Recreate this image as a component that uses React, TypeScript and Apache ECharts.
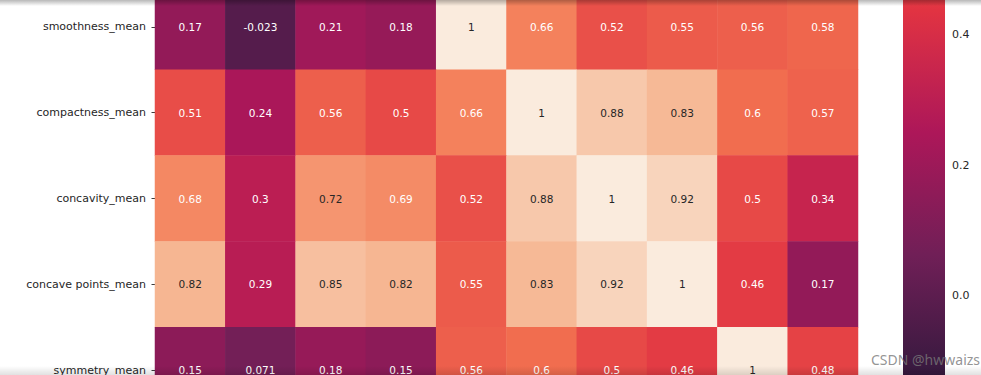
import React, { useEffect, useRef } from "react";
import * as echarts from "echarts";

const ROWS = ["smoothness_mean", "compactness_mean", "concavity_mean", "concave points_mean", "symmetry_mean"];
const COLS = [
  "radius_mean", "texture_mean", "perimeter_mean", "area_mean", "smoothness_mean",
  "compactness_mean", "concavity_mean", "concave points_mean", "symmetry_mean", "fractal_dimension_mean",
];
const SMOOTHNESS = [0.17, -0.023, 0.21, 0.18, 1, 0.66, 0.52, 0.55, 0.56, 0.58];
const COMPACTNESS = [0.51, 0.24, 0.56, 0.5, 0.66, 1, 0.88, 0.83, 0.6, 0.57];
const CONCAVITY = [0.68, 0.3, 0.72, 0.69, 0.52, 0.88, 1, 0.92, 0.5, 0.34];
const CONCAVE_POINTS = [0.82, 0.29, 0.85, 0.82, 0.55, 0.83, 0.92, 1, 0.46, 0.17];
const SYMMETRY = [0.15, 0.071, 0.18, 0.15, 0.56, 0.6, 0.5, 0.46, 1, 0.48];
const MATRIX = [SMOOTHNESS, COMPACTNESS, CONCAVITY, CONCAVE_POINTS, SYMMETRY];

const VMIN = -0.3116;
const VMAX = 1;
const COLORBAR_TICKS = [0, 0.2, 0.4];

const ROCKET = ["#03051A", "#35193E", "#701F57", "#AD1759", "#E13342", "#F37651", "#F6B48F", "#FAEBDD"];

// the figure is larger than the visible window; the chart div is shifted up by OFFSET
const OFFSET = 400;

export default function App() {
  const ref = useRef<HTMLDivElement>(null);
  useEffect(() => {
    document.body.style.margin = "0";
    const chart = echarts.init(ref.current!, null, { renderer: "svg" });
    const data: any[] = [];
    MATRIX.forEach((row, yi) =>
      row.forEach((v, xi) => {
        data.push({
          value: [xi, yi, v],
          label: { color: v >= 0.7 ? "#262626" : "#ffffff" },
        });
      })
    );
    const font = "DejaVu Sans";
    chart.setOption({
      animation: false,
      backgroundColor: "#ffffff",
      grid: [
        { left: 155, width: 703, top: OFFSET - 16, height: 429 },
        { left: 903, width: 42, top: OFFSET - 356.5, height: 855.8 },
      ],
      xAxis: [
        {
          type: "category",
          gridIndex: 0,
          data: COLS,
          axisLabel: { show: false },
          axisTick: { show: false },
          axisLine: { show: false },
        },
        { type: "value", gridIndex: 1, min: 0, max: 1, show: false },
      ],
      yAxis: [
        {
          type: "category",
          gridIndex: 0,
          data: ROWS,
          inverse: true,
          axisLine: { show: false },
          axisTick: { show: true, length: 3.5, lineStyle: { color: "#262626", width: 0.9 }, alignWithLabel: true },
          axisLabel: { color: "#262626", fontFamily: font, fontSize: 11, margin: 9 },
        },
        {
          type: "value",
          gridIndex: 1,
          position: "right",
          min: VMIN,
          max: VMAX,
          axisLine: { show: false },
          splitLine: { show: false },
          axisTick: {
            show: true,
            length: 3.5,
            lineStyle: { color: "#262626", width: 0.9 },
            customValues: COLORBAR_TICKS,
          },
          axisLabel: {
            color: "#262626",
            fontFamily: font,
            fontSize: 11,
            margin: 7,
            customValues: COLORBAR_TICKS,
            formatter: (v: number) => v.toFixed(1),
          },
        },
      ],
      visualMap: {
        show: false,
        min: VMIN,
        max: VMAX,
        seriesIndex: 0,
        dimension: 2,
        inRange: { color: ROCKET },
      },
      series: [
        {
          type: "heatmap",
          xAxisIndex: 0,
          yAxisIndex: 0,
          data,
          itemStyle: { borderWidth: 0 },
          label: {
            show: true,
            fontFamily: font,
            fontSize: 10.5,
            formatter: (p: any) => String(Number(p.value[2].toPrecision(2))),
          },
          emphasis: { disabled: true },
        },
        {
          type: "custom",
          xAxisIndex: 1,
          yAxisIndex: 1,
          data: [[0, VMIN, VMAX]],
          renderItem: (params: any, api: any) => {
            const top = api.coord([0, api.value(2)]);
            const bottom = api.coord([0, api.value(1)]);
            const cs = params.coordSys;
            const stops = ROCKET.map((c, i) => ({ offset: 1 - i / (ROCKET.length - 1), color: c })).reverse();
            return {
              type: "rect",
              shape: { x: cs.x, y: top[1], width: cs.width, height: bottom[1] - top[1] },
              style: { fill: new echarts.graphic.LinearGradient(0, 0, 0, 1, stops) },
            };
          },
          silent: true,
        },
      ],
      graphic: [
        {
          type: "rect",
          left: 0,
          top: OFFSET,
          z: 100,
          silent: true,
          shape: { width: 981, height: 6 },
          style: {
            fill: new echarts.graphic.LinearGradient(0, 0, 0, 1, [
              { offset: 0, color: "rgba(0,0,0,0.28)" },
              { offset: 1, color: "rgba(0,0,0,0)" },
            ]),
          },
        },
        {
          type: "rect",
          left: 0,
          top: OFFSET + 366,
          z: 100,
          silent: true,
          shape: { width: 981, height: 9 },
          style: {
            fill: new echarts.graphic.LinearGradient(0, 0, 0, 1, [
              { offset: 0, color: "rgba(0,0,0,0)" },
              { offset: 1, color: "rgba(0,0,0,0.12)" },
            ]),
          },
        },
        {
          type: "text",
          left: 871,
          top: OFFSET + 352,
          z: 101,
          silent: true,
          style: {
            text: "CSDN @hwwaizs",
            fill: "rgba(120,120,120,0.8)",
            font: "14px 'Noto Sans'",
          },
        },
      ],
    });
    return () => chart.dispose();
  }, []);
  return (
    <div style={{ position: "relative", width: 981, height: 375, overflow: "hidden" }}>
      <div ref={ref} style={{ position: "absolute", left: 0, top: -OFFSET, width: 981, height: 1300 }} />
    </div>
  );
}
